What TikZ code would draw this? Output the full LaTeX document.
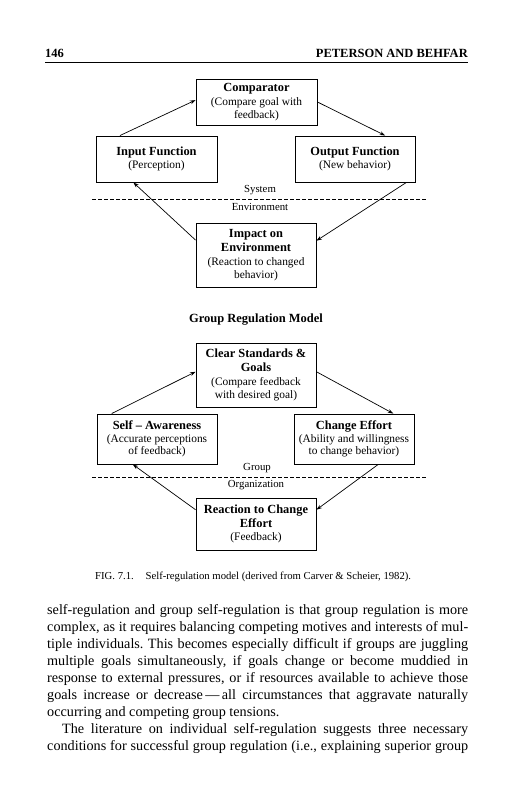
\documentclass[tikz,border=0pt]{standalone}
\usepackage{fontspec}
\setmainfont{Liberation Serif}
\usetikzlibrary{calc,arrows.meta}
\newcommand{\tb}[1]{{\fontsize{12.4}{14}\selectfont\bfseries #1}}
\frenchspacing
\begin{document}
\begin{tikzpicture}[x=1pt,y=-1pt,
  box/.style={draw, line width=0.9pt, inner sep=0pt, align=center, font=\fontsize{11.4}{12.5}\selectfont},
  arr/.style={-{Stealth[length=5.5pt,width=3.8pt]}, line width=0.7pt},
  lab/.style={inner sep=0pt, font=\fontsize{10.8}{12}\selectfont},
  body/.style={anchor=base west, inner sep=0pt, font=\fontsize{14.2}{17}\selectfont},
  sep/.style={dashed, dash pattern=on 4pt off 2pt, line width=0.6pt}]
\fill[white] (0,0) rectangle (514,800);
\useasboundingbox (0,0) rectangle (514,800);
% header
\node[anchor=base west, inner sep=0pt, font=\fontsize{12.5}{14}\selectfont\bfseries] (pg) at (45,57) {146};
\node[anchor=base east, inner sep=0pt, font=\fontsize{12.5}{14}\selectfont\bfseries] (hd) at (468,57) {PETERSON AND BEHFAR};
\coordinate (r1) at (45,62);
\coordinate (r2) at (468,62);
\draw[line width=0.9pt] (r1) -- (r2);
% model 1
\node[box, minimum width=121pt, minimum height=46pt] (comp) at (256.5,102) {\tb{Comparator}\\[1.5pt](Compare goal with\\feedback)};
\node[box, minimum width=121pt, minimum height=46pt] (input) at (156.5,159) {\tb{Input Function}\\(Perception)};
\node[box, minimum width=120pt, minimum height=46pt] (output) at (355,159) {\tb{Output Function}\\(New behavior)};
\node[box, minimum width=120pt, minimum height=64pt] (impact) at (256,255) {\tb{Impact on}\\[1.5pt]\tb{Environment}\\[1.5pt](Reaction to changed\\behavior)};
\coordinate (d1a) at (92,199);
\coordinate (d1b) at (426,199);
\draw[sep] (d1a) -- (d1b);
\node[lab] (sys) at (260,190) {System};
\node[lab] (env) at (260,206.5) {Environment};
\draw[arr] ($(input.north west)!0.2!(input.north east)$) -- ($(comp.north west)!0.46!(comp.south west)$);
\draw[arr] (comp.east) -- ($(output.north west)!0.75!(output.north east)$);
\draw[arr] ($(impact.north west)!0.27!(impact.south west)$) -- ($(input.south west)!0.31!(input.south east)$);
\draw[arr] ($(output.south west)!0.925!(output.south east)$) -- ($(impact.north east)!0.28!(impact.south east)$);
% title
\node[anchor=base, inner sep=0pt, font=\fontsize{12.5}{14}\selectfont\bfseries] (title) at (256,322) {Group Regulation Model};
% model 2
\node[box, minimum width=120pt, minimum height=64pt] (clear) at (256,375) {\tb{Clear Standards \&}\\[1.5pt]\tb{Goals}\\[1.5pt](Compare feedback\\with desired goal)};
\node[box, minimum width=120pt, minimum height=50pt] (selfaw) at (157,439) {\tb{Self -- Awareness}\\[0.5pt](Accurate perceptions\\of feedback)};
\node[box, minimum width=120pt, minimum height=50pt] (change) at (354,439) {\tb{Change Effort}\\[0.5pt](Ability and willingness\\to change behavior)};
\node[box, minimum width=120pt, minimum height=52pt] (react) at (256,524) {\tb{Reaction to Change}\\[1.5pt]\tb{Effort}\\[1pt](Feedback)};
\coordinate (d2a) at (92,477);
\coordinate (d2b) at (426,477);
\draw[sep] (d2a) -- (d2b);
\node[lab] (grp) at (257,468.5) {Group};
\node[lab] (org) at (256,485.5) {Organization};
\draw[arr] ($(selfaw.north west)!0.125!(selfaw.north east)$) -- ($(clear.north west)!0.45!(clear.south west)$);
\draw[arr] ($(clear.north east)!0.45!(clear.south east)$) -- ($(change.north west)!0.825!(change.north east)$);
\draw[arr] ($(react.north west)!0.23!(react.south west)$) -- ($(selfaw.south west)!0.3!(selfaw.south east)$);
\draw[arr] ($(change.south west)!0.7!(change.south east)$) -- ($(react.north east)!0.23!(react.south east)$);
% caption
\node[anchor=base west, inner sep=0pt, font=\fontsize{10.7}{12}\selectfont] (cap) at (95,579) {FIG. 7.1.\hspace{1.1em}Self-regulation model (derived from Carver \& Scheier, 1982).};
% body text
\node[body] (l1) at (47,614) {\makebox[421pt][s]{self-regulation and group self-regulation is that group regulation is more}};
\node[body] (l2) at (47,631) {\makebox[421pt][s]{complex, as it requires balancing competing motives and interests of mul-}};
\node[body] (l3) at (47,648) {\makebox[421pt][s]{tiple individuals. This becomes especially difficult if groups are juggling}};
\node[body] (l4) at (47,665) {\makebox[421pt][s]{multiple goals simultaneously, if goals change or become muddied in}};
\node[body] (l5) at (47,682) {\makebox[421pt][s]{response to external pressures, or if resources available to achieve those}};
\node[body] (l6) at (47,699) {\makebox[421pt][s]{goals increase or decrease\,---\,all circumstances that aggravate naturally}};
\node[body] (l7) at (47,716) {occurring and competing group tensions.};
\node[body] (l8) at (62,733) {\makebox[406pt][s]{The literature on individual self-regulation suggests three necessary}};
\node[body] (l9) at (47,750) {\makebox[421pt][s]{conditions for successful group regulation (i.e., explaining superior group}};
\end{tikzpicture}
\end{document}
